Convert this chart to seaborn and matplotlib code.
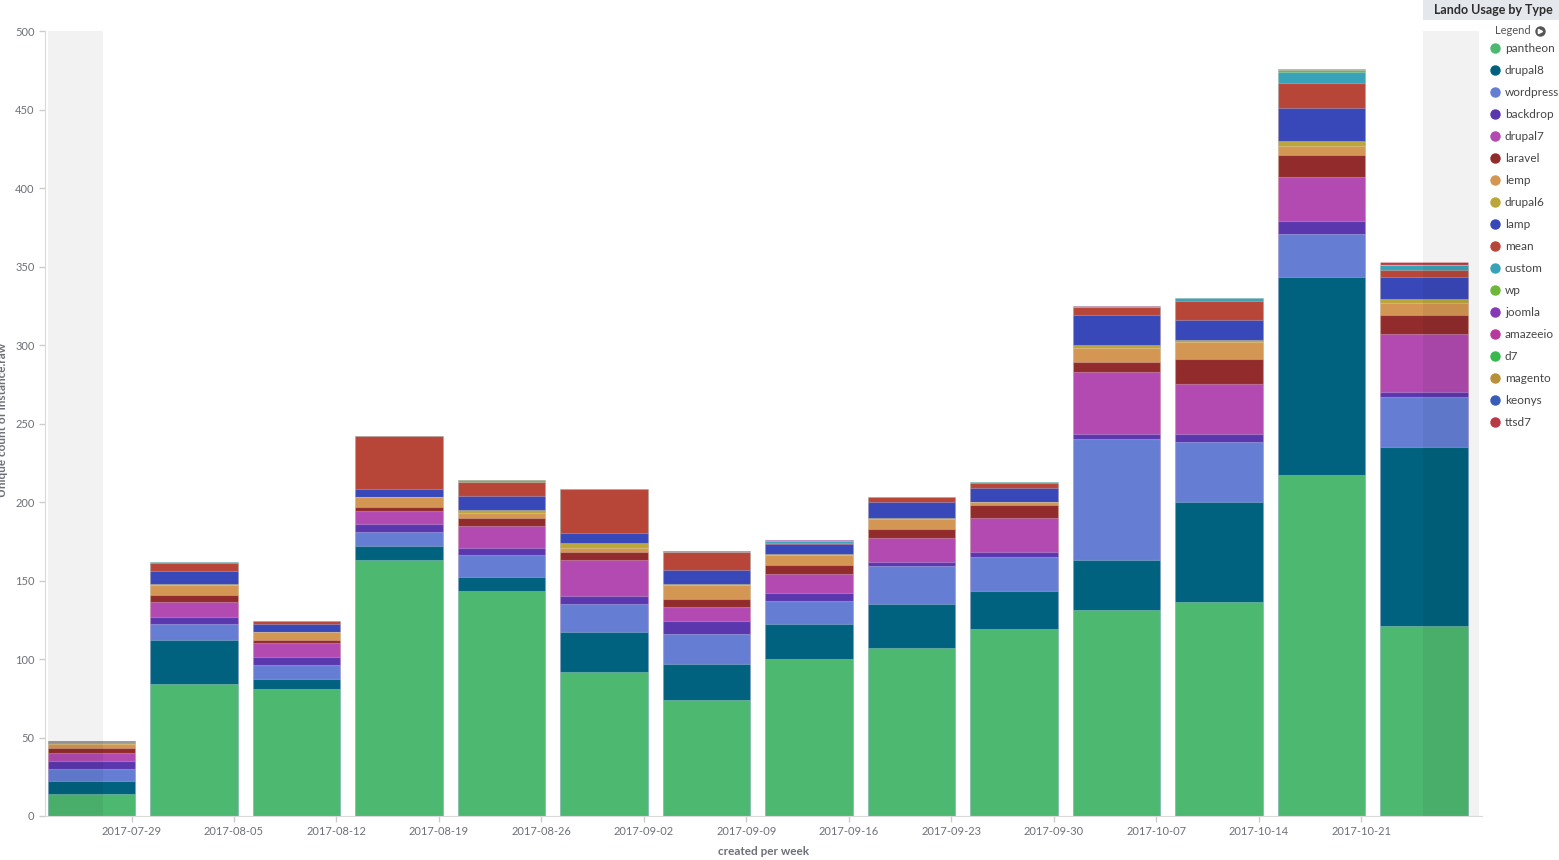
import numpy as np
import pandas as pd
import matplotlib
matplotlib.use('Agg')
import matplotlib.pyplot as plt
from matplotlib.patches import Rectangle
import seaborn as sns

# weekly buckets and tick labels
weeks = ['2017-07-24', '2017-07-31', '2017-08-07', '2017-08-14', '2017-08-21',
         '2017-08-28', '2017-09-04', '2017-09-11', '2017-09-18', '2017-09-25',
         '2017-10-02', '2017-10-09', '2017-10-16', '2017-10-23']
tick_labels = ['2017-07-29', '2017-08-05', '2017-08-12', '2017-08-19', '2017-08-26',
               '2017-09-02', '2017-09-09', '2017-09-16', '2017-09-23', '2017-09-30',
               '2017-10-07', '2017-10-14', '2017-10-21']

# counts per type (bottom of stack first)
pantheon = [14, 84, 81, 163, 143, 92, 74, 100, 107, 119, 131, 136, 217, 121]
drupal8 = [8, 28, 6, 9, 9, 25, 23, 22, 28, 24, 32, 64, 126, 114]
wordpress = [8, 10, 9, 9, 14, 18, 19, 15, 24, 22, 77, 38, 28, 32]
backdrop = [5, 5, 5, 5, 5, 5, 8, 5, 3, 3, 3, 5, 8, 3]
drupal7 = [5, 9, 9, 8, 14, 23, 9, 12, 15, 22, 40, 32, 28, 37]
laravel = [3, 5, 2, 3, 5, 5, 5, 6, 6, 8, 6, 16, 14, 12]
lemp = [3, 6, 5, 6, 3, 3, 9, 6, 6, 2, 9, 11, 6, 8]
drupal6 = [1, 1, 0, 0, 2, 3, 1, 1, 1, 0, 2, 1, 3, 2]
lamp = [1, 8, 5, 5, 9, 6, 9, 6, 10, 9, 19, 13, 21, 14]
mean = [0, 5, 2, 34, 9, 28, 11, 1, 3, 3, 5, 12, 16, 5]
custom = [0, 1, 0, 0, 0, 0, 0, 1, 0, 1, 0, 2, 7, 3]
wp = [0, 0, 0, 0, 1, 0, 0, 0, 0, 0, 0, 0, 1, 0]
joomla = [0, 0, 0, 0, 0, 0, 1, 1, 0, 0, 0, 0, 0, 0]
amazeeio = [0, 0, 0, 0, 0, 0, 0, 0, 0, 0, 1, 0, 0, 0]
d7 = [0] * 14
magento = [0, 0, 0, 0, 0, 0, 0, 0, 0, 0, 0, 0, 1, 0]
keonys = [0] * 14
ttsd7 = [0, 0, 0, 0, 0, 0, 0, 0, 0, 0, 0, 0, 0, 2]

types = ['pantheon', 'drupal8', 'wordpress', 'backdrop', 'drupal7', 'laravel', 'lemp',
         'drupal6', 'lamp', 'mean', 'custom', 'wp', 'joomla', 'amazeeio', 'd7',
         'magento', 'keonys', 'ttsd7']
series = [pantheon, drupal8, wordpress, backdrop, drupal7, laravel, lemp, drupal6,
          lamp, mean, custom, wp, joomla, amazeeio, d7, magento, keonys, ttsd7]
colors = ['#4db870', '#00627f', '#657ed4', '#5b37ae', '#b24ab2', '#922c2c', '#d49653',
          '#bba63a', '#3848b8', '#b84638', '#38a3b8', '#6db838', '#8538b8', '#b8389e',
          '#38b84f', '#b8903a', '#385db8', '#b83843']

df = pd.DataFrame(dict(zip(types, series)))
df['week'] = weeks
cum = df[types].cumsum(axis=1)

plt.rcParams['font.family'] = ['Lato', 'DejaVu Sans']
fig = plt.figure(figsize=(15.59, 8.6), dpi=100)
ax = fig.add_axes([45 / 1559, 1 - 816 / 860, (1482 - 45) / 1559, (816 - 31) / 860])

# draw cumulative totals from the top layer down so each lower layer covers the rest
for k in range(len(types) - 1, -1, -1):
    sns.barplot(x=df['week'], y=cum[types[k]], color=colors[k], saturation=1,
                width=0.85, errorbar=None, ax=ax, zorder=2 + (len(types) - k) * 0.01,
                edgecolor=(1, 1, 1, 0.25), linewidth=0.8)

# out-of-range shading
ax.axvspan(-0.424, 0.112, color='black', alpha=0.05, lw=0, zorder=5)
ax.axvspan(12.99, 13.54, color='black', alpha=0.05, lw=0, zorder=5)

ax.set_xlim(-0.454, 13.566)
ax.set_ylim(0, 500)
ax.set_xticks(np.arange(len(tick_labels)) + 0.39)
ax.set_xticklabels(tick_labels)
ax.set_yticks(np.arange(0, 501, 50))
ax.tick_params(axis='both', colors='#cccccc', labelcolor='#6d7078', labelsize=8,
               length=4, width=1)
ax.set_xlabel('created per week', fontsize=8.5, color='#6d7078', fontweight='bold',
              labelpad=6)
ax.set_ylabel('')
for s in ['top', 'right']:
    ax.spines[s].set_visible(False)
for s in ['left', 'bottom']:
    ax.spines[s].set_color('#d9d9d9')

fig.text(3 / 1559, 1 - 420 / 860, 'Unique count of instance.raw', rotation=90,
         ha='center', va='center', fontsize=8.5, color='#6d7078', fontweight='bold')

# title box and legend in pixel coords
ov = fig.add_axes([0, 0, 1, 1], facecolor='none')
ov.set_xlim(0, 1559)
ov.set_ylim(860, 0)
ov.axis('off')
ov.add_patch(Rectangle((1423, 0), 136, 20, color='#e4e8ec', lw=0))
ov.text(1493, 9.5, 'Lando Usage by Type', ha='center', va='center', fontsize=9,
        color='#2d2d2d', fontweight='bold')
ov.text(1495, 31, 'Legend', ha='left', va='center', fontsize=8, color='#555555')
ov.plot([1540], [31], 'o', ms=6.5, color='#555555')
ov.plot([1540], [31], '>', ms=3, color='white')
for i, (t, c) in enumerate(zip(types, colors)):
    y = 48 + 22 * i
    ov.plot([1495], [y], 'o', ms=6.5, color=c)
    ov.text(1505, y, t, ha='left', va='center', fontsize=8.5, color='#444444')

fig.savefig('out.png', dpi=100)
